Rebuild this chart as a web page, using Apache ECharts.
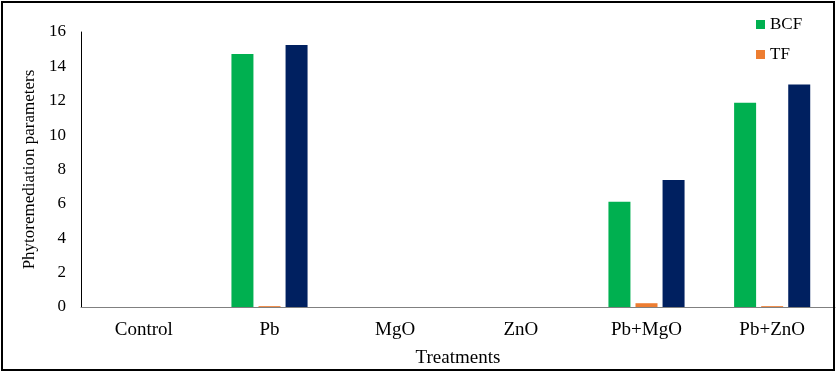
<!DOCTYPE html>
<html><head><meta charset="utf-8">
<script src="https://cdn.jsdelivr.net/npm/echarts@6/dist/echarts.min.js"></script>
<style>html,body{margin:0;padding:0;background:#fff}#c{width:839px;height:374px}</style>
</head><body><div id="c"></div>
<script>
var categories = ['Control', 'Pb', 'MgO', 'ZnO', 'Pb+MgO', 'Pb+ZnO'];
var bcf = [0, 14.72, 0, 0, 6.13, 11.89];
var tf = [0, 0.05, 0, 0, 0.22, 0.05];
var third = [0, 15.24, 0, 0, 7.39, 12.95];
var yTicks = [0, 2, 4, 6, 8, 10, 12, 14, 16];

var font = '"Liberation Serif", "Times New Roman", serif';
var chart = echarts.init(document.getElementById('c'));
chart.setOption({
  animation: false,
  textStyle: { fontFamily: font },
  graphic: [{
    type: 'rect', shape: { x: 2, y: 2, width: 832, height: 368 },
    style: { fill: 'none', stroke: '#000', lineWidth: 2 }, z: 10
  }],
  legend: {
    data: ['BCF', 'TF'], orient: 'vertical', left: 751, top: 11,
    itemWidth: 9, itemHeight: 9, itemGap: 13, icon: 'rect',
    textStyle: { fontFamily: font, fontSize: 17, color: '#000' }
  },
  grid: { left: 81, right: 4, top: 32, bottom: 67 },
  xAxis: {
    type: 'category', data: categories,
    name: 'Treatments', nameLocation: 'middle', nameGap: 42,
    nameTextStyle: { fontFamily: font, fontSize: 19, color: '#000' },
    axisLine: { lineStyle: { color: '#808080', width: 1 } },
    axisTick: { show: false },
    axisLabel: { fontFamily: font, fontSize: 19, color: '#000', margin: 14 }
  },
  yAxis: {
    type: 'value', min: yTicks[0], max: yTicks[yTicks.length - 1], interval: 2,
    name: 'Phytoremediation parameters', nameLocation: 'middle', nameGap: 37,
    nameTextStyle: { fontFamily: font, fontSize: 17, color: '#000' },
    axisLine: { show: true, lineStyle: { color: '#000', width: 1 } },
    axisTick: { show: false },
    splitLine: { show: false },
    axisLabel: { fontFamily: font, fontSize: 17, color: '#000', margin: 15 }
  },
  series: [
    { name: 'BCF', type: 'bar', data: bcf, barWidth: 22, barGap: '23%', itemStyle: { color: '#00B050' } },
    { name: 'TF', type: 'bar', data: tf, barWidth: 22, barGap: '23%', itemStyle: { color: '#ED7D31' } },
    { name: 'Series3', type: 'bar', data: third, barWidth: 22, barGap: '23%', itemStyle: { color: '#002060' } }
  ]
});
</script></body></html>
